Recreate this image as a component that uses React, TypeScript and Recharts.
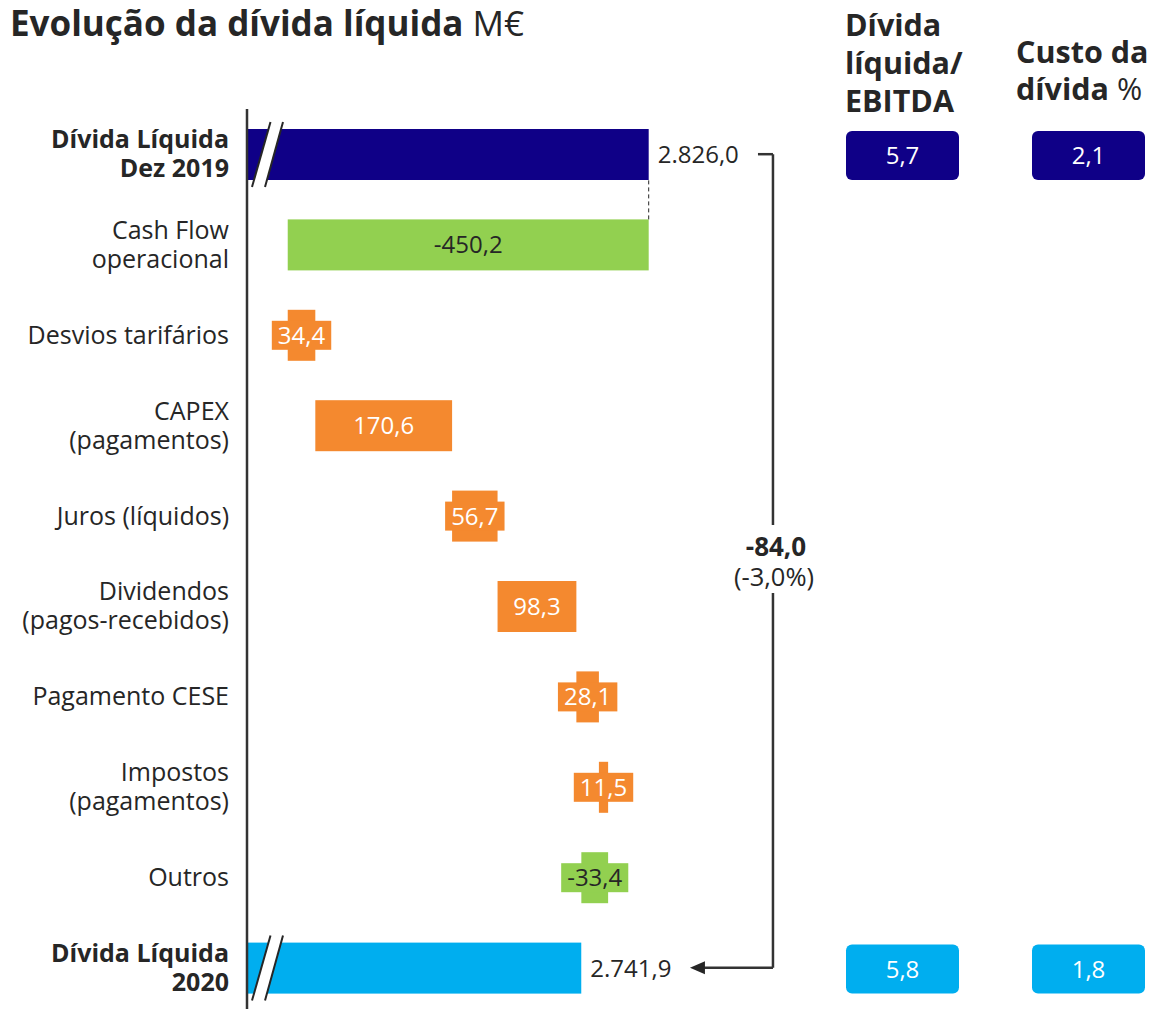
import React from 'react';
import { ComposedChart, Bar, Line, XAxis, YAxis } from 'recharts';

// Evolução da dívida líquida (M€) - waterfall
const categories = [
  'Dívida Líquida\nDez 2019',
  'Cash Flow\noperacional',
  'Desvios tarifários',
  'CAPEX\n(pagamentos)',
  'Juros (líquidos)',
  'Dividendos\n(pagos-recebidos)',
  'Pagamento CESE',
  'Impostos\n(pagamentos)',
  'Outros',
  'Dívida Líquida\n2020',
];
const values = [2826.0, -450.2, 34.4, 170.6, 56.7, 98.3, 28.1, 11.5, -33.4, 2741.9];
const debtToEbitda = [5.7, 5.8];
const debtCost = [2.1, 1.8];
const netChange = -84.0;
const netChangePct = -3.0;

const FONT = '"Open Sans", "Noto Sans", sans-serif';
const TEXT = '#262626';
const NAVY = '#0f0087';
const SKY = '#00aeef';
const GREEN = '#92d050';
const ORANGE = '#f4892f';

const AXIS_START = 2325; // broken axis starts here
const AXIS_END = 3450;
const BRACKET_AT = 2981;
const BAR_SIZE = 51;
const BAND_GAP = 39;
const BOX_COLUMNS = [846, 1032];
const BOX_WIDTH = 113;

const lastIndex = categories.length - 1;

const fmt = (v: number) => {
  const [int, dec] = Math.abs(v).toFixed(1).split('.');
  const grouped = int.replace(/\B(?=(\d{3})+(?!\d))/g, '.');
  return (v < 0 ? '-' : '') + grouped + ',' + dec;
};

let running = 0;
const rows = categories.map((name, i) => {
  const isTotal = i === 0 || i === lastIndex;
  let range: number[];
  if (isTotal) {
    range = [AXIS_START, values[i]];
    running = values[i];
  } else {
    const next = running + values[i];
    range = [Math.min(running, next), Math.max(running, next)];
    running = next;
  }
  return {
    name,
    value: values[i],
    range,
    isTotal,
    bracket: isTotal ? BRACKET_AT : null,
    ratios: i === 0 ? [debtToEbitda[0], debtCost[0]] : i === lastIndex ? [debtToEbitda[1], debtCost[1]] : null,
  };
});

const textWidth = (s: string, size: number) => {
  let w = 0;
  for (const ch of s) w += ch === ',' || ch === '.' ? 0.26 : ch === '-' ? 0.32 : 0.572;
  return w * size;
};

function CategoryTick(props: any) {
  const { x, y, payload } = props;
  const label = String(payload.value);
  const lines = label.split('\n');
  const bold = label === categories[0] || label === categories[lastIndex];
  const lh = 29;
  const y0 = y - ((lines.length - 1) * lh) / 2;
  return (
    <text
      x={x}
      y={y0}
      textAnchor="end"
      fill={TEXT}
      fontFamily={FONT}
      fontSize={25}
      fontWeight={bold ? 700 : 400}
    >
      {lines.map((l, i) => (
        <tspan key={i} x={x} y={y0 + i * lh} dy="0.35em">
          {l}
        </tspan>
      ))}
    </text>
  );
}

function WaterfallShape(props: any) {
  const { x, y, width, height, payload, index } = props;
  const cy = y + height / 2;

  if (payload.isTotal) {
    const fill = index === 0 ? NAVY : SKY;
    const top = y - 7;
    const bottom = y + height + 7;
    return (
      <g>
        <rect x={x} y={y} width={width} height={height} fill={fill} />
        <polygon
          points={`${x + 5},${bottom} ${x + 23.5},${top} ${x + 36},${top} ${x + 18},${bottom}`}
          fill="#fff"
        />
        <line x1={x + 5} y1={bottom} x2={x + 23.5} y2={top} stroke={TEXT} strokeWidth={2} />
        <line x1={x + 18} y1={bottom} x2={x + 36} y2={top} stroke={TEXT} strokeWidth={2} />
        <text x={x + width + 9} y={cy} dy="0.35em" fill={TEXT} fontFamily={FONT} fontSize={24}>
          {fmt(payload.value)}
        </text>
        {payload.ratios.map((r: number, k: number) => (
          <g key={k}>
            <rect
              x={BOX_COLUMNS[k]}
              y={y + 2}
              width={BOX_WIDTH}
              height={height - 2}
              rx={6}
              fill={fill}
            />
            <text
              x={BOX_COLUMNS[k] + BOX_WIDTH / 2}
              y={cy + 1}
              dy="0.35em"
              textAnchor="middle"
              fill="#fff"
              fontFamily={FONT}
              fontSize={24}
            >
              {fmt(r)}
            </text>
          </g>
        ))}
      </g>
    );
  }

  const negative = payload.value < 0;
  const fill = negative ? GREEN : ORANGE;
  const color = negative ? TEXT : '#fff';
  const label = fmt(payload.value);
  const tw = textWidth(label, 24);
  const needsBox = width < tw + 12;
  const cx = x + width / 2;
  return (
    <g>
      <rect x={x} y={y} width={width} height={height} fill={fill} />
      {needsBox && <rect x={cx - tw / 2 - 6} y={cy - 14.5} width={tw + 12} height={29} fill={fill} />}
      {index === 1 && (
        <line
          x1={x + width}
          y1={y}
          x2={x + width}
          y2={y - BAND_GAP}
          stroke={TEXT}
          strokeWidth={1}
          strokeDasharray="4 3"
        />
      )}
      <text x={cx} y={cy} dy="0.35em" textAnchor="middle" fill={color} fontFamily={FONT} fontSize={24}>
        {label}
      </text>
    </g>
  );
}

function BracketDot(props: any) {
  const { cx, cy, index, points } = props;
  if (cx == null || cy == null) return <g key={`d-${index}`} />;
  if (index === 0) {
    const valid = (points || []).filter((p: any) => p.x != null);
    const end = valid.length ? valid[valid.length - 1] : null;
    const midY = end ? (cy + end.y) / 2 : cy;
    return (
      <g key={`d-${index}`}>
        <line x1={cx - 15} y1={cy} x2={cx} y2={cy} stroke="#333" strokeWidth={2.5} />
        {end && (
          <g>
            <rect x={cx - 50} y={midY - 36} width={100} height={68} fill="#fff" />
            <text
              x={cx + 3}
              y={midY - 14}
              dy="0.35em"
              textAnchor="middle"
              fill={TEXT}
              fontFamily={FONT}
              fontSize={26}
              fontWeight={700}
            >
              {fmt(netChange)}
            </text>
            <text
              x={cx + 1}
              y={midY + 16}
              dy="0.35em"
              textAnchor="middle"
              fill={TEXT}
              fontFamily={FONT}
              fontSize={25.5}
            >
              {`(${fmt(netChangePct)}%)`}
            </text>
          </g>
        )}
      </g>
    );
  }
  return (
    <g key={`d-${index}`}>
      <line x1={cx} y1={cy} x2={cx - 69} y2={cy} stroke="#333" strokeWidth={2.5} />
      <polygon points={`${cx - 83},${cy} ${cx - 68},${cy - 6.5} ${cx - 68},${cy + 6.5}`} fill="#262626" />
    </g>
  );
}

export default function App() {
  return (
    <div
      style={{
        position: 'absolute',
        left: 0,
        top: 0,
        width: 1159,
        height: 1009,
        overflow: 'hidden',
        background: '#fff',
      }}
    >
      <svg width={1159} height={125} style={{ position: 'absolute', left: 0, top: 0 }}>
        <text x={10} y={36} fill={TEXT} fontFamily={FONT} fontSize={35}>
          <tspan fontWeight={700}>Evolução da dívida líquida</tspan>
          <tspan fontWeight={400}> M€</tspan>
        </text>
        <text x={845} fill={TEXT} fontFamily={FONT} fontSize={30.5} fontWeight={700}>
          <tspan x={845} y={36}>Dívida</tspan>
          <tspan x={845} y={74}>líquida/</tspan>
          <tspan x={845} y={112}>EBITDA</tspan>
        </text>
        <text x={1016} fill={TEXT} fontFamily={FONT} fontSize={30.5} fontWeight={700}>
          <tspan x={1016} y={63}>Custo da</tspan>
          <tspan x={1016} y={100}>
            dívida<tspan fontWeight={400}> %</tspan>
          </tspan>
        </text>
      </svg>
      <div style={{ position: 'absolute', left: 0, top: 0 }}>
        <ComposedChart
          width={1159}
          height={1014}
          data={rows}
          layout="vertical"
          margin={{ top: 109, right: 10, bottom: 1, left: 0 }}
        >
          <XAxis
            type="number"
            domain={[AXIS_START, AXIS_END]}
            allowDataOverflow
            scale="linear"
            hide
          />
          <YAxis
            type="category"
            dataKey="name"
            width={247}
            axisLine={{ stroke: '#333', strokeWidth: 2.5 }}
            tickLine={false}
            tickSize={0}
            tickMargin={18}
            tick={<CategoryTick />}
            interval={0}
          />
          <Bar dataKey="range" barSize={BAR_SIZE} shape={WaterfallShape} isAnimationActive={false} />
          <Line
            dataKey="bracket"
            type="linear"
            connectNulls
            stroke="#333"
            strokeWidth={2.5}
            dot={BracketDot}
            activeDot={false}
            isAnimationActive={false}
          />
        </ComposedChart>
      </div>
    </div>
  );
}
